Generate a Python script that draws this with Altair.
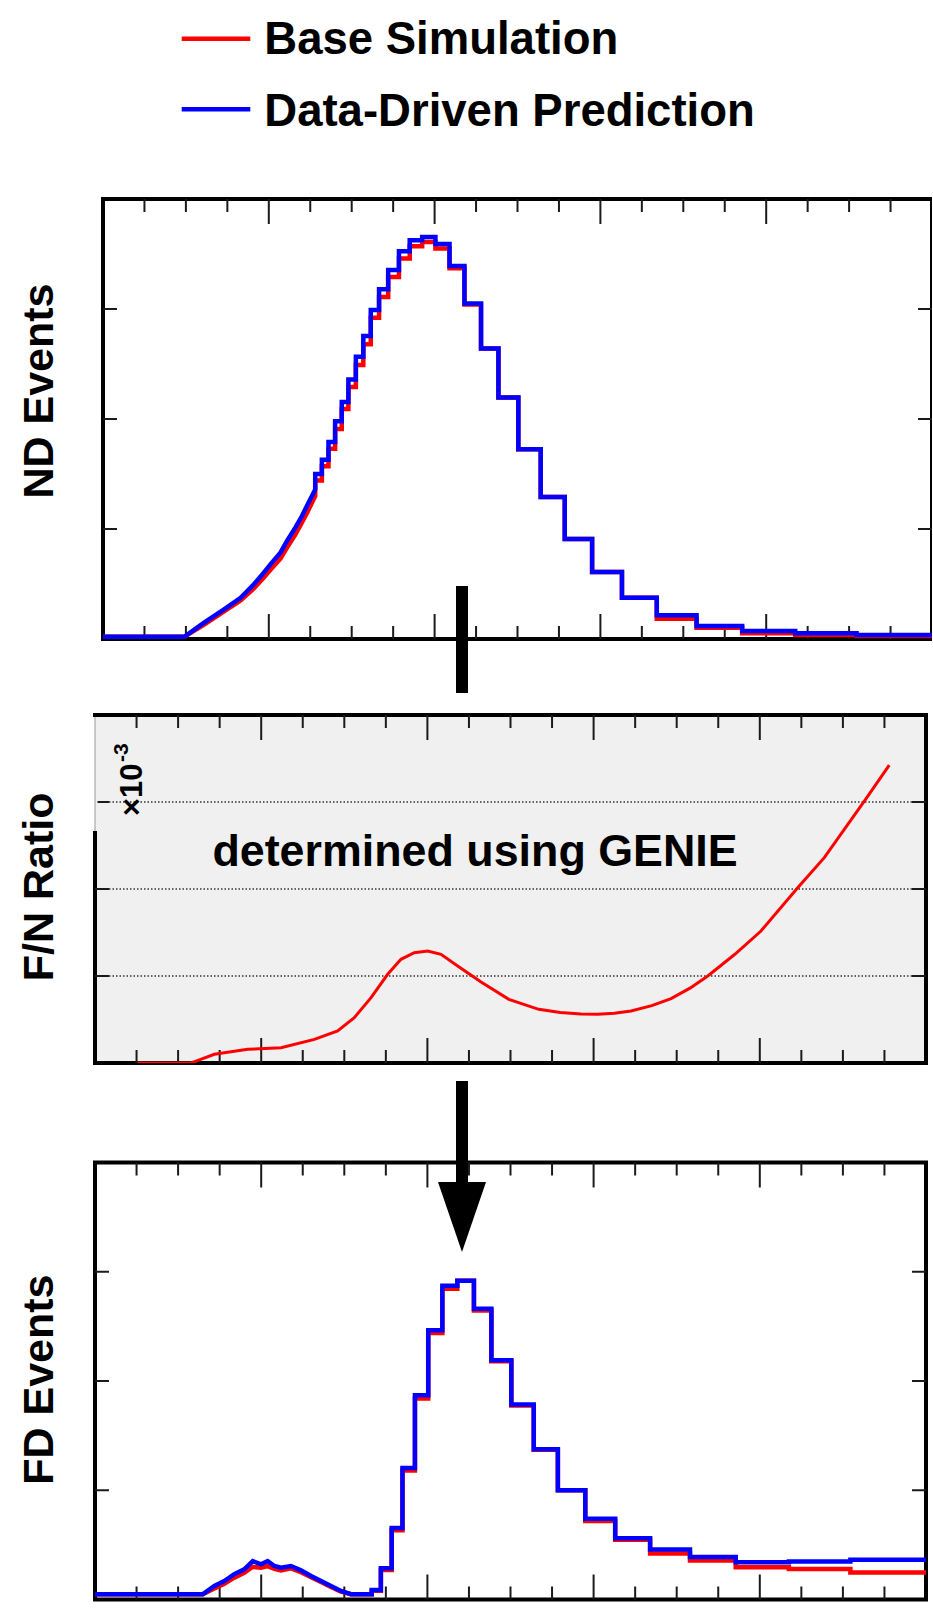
import altair as alt
import pandas as pd

FONT = "Liberation Sans"
RED = "#ff0000"
BLUE = "#0000ff"

# ---------------- data ----------------
# variable-width bin edges (reconstructed energy) shared by ND and FD spectra
bin_edges = [1.28, 1.32, 1.36, 1.40, 1.44, 1.48, 1.525, 1.57, 1.615, 1.665,
             1.72, 1.785, 1.85, 1.925, 2.005, 2.09, 2.18, 2.28, 2.385, 2.505,
             2.64, 2.785, 2.95, 3.13, 3.34, 3.58, 3.855, 4.175, 4.545, 5.0]

# Near detector: finely binned low-energy edge
nd_fine_x = [0.0, 0.49, 0.61, 0.73, 0.83, 0.91, 0.97, 1.01, 1.07, 1.11, 1.16, 1.20, 1.235, 1.28]
nd_fine_base = [0.02, 0.02, 0.13, 0.25, 0.35, 0.46, 0.56, 0.63, 0.73, 0.83, 0.95, 1.06, 1.16, 1.30]
nd_fine_ddp = [0.02, 0.02, 0.148, 0.27, 0.375, 0.497, 0.603, 0.679, 0.785, 0.891, 1.012, 1.118, 1.225, 1.36]
# Near detector: contents of the variable-width bins
nd_bins_base = [1.44, 1.57, 1.73, 1.91, 2.09, 2.29, 2.49, 2.68, 2.92, 3.11, 3.29, 3.46, 3.57, 3.61,
                3.55, 3.37, 3.04, 2.64, 2.195, 1.725, 1.29, 0.91, 0.61, 0.375, 0.185, 0.103,
                0.052, 0.036, 0.028]
nd_bins_ddp = [1.50, 1.63, 1.79, 1.98, 2.155, 2.36, 2.565, 2.755, 2.99, 3.18, 3.355, 3.525, 3.625,
               3.655, 3.59, 3.39, 3.05, 2.64, 2.195, 1.725, 1.29, 0.91, 0.61, 0.375, 0.215, 0.118,
               0.073, 0.052, 0.036]

# Far/Near ratio (x10^-3), determined using GENIE
fn_x = [0.257, 0.578, 0.62, 0.718, 0.919, 1.119, 1.320, 1.460, 1.560, 1.661, 1.761, 1.841, 1.921,
        2.002, 2.082, 2.182, 2.323, 2.49, 2.67, 2.80, 2.924, 3.025, 3.125, 3.225, 3.35, 3.466,
        3.58, 3.687, 3.85, 4.007, 4.228, 4.388, 4.629, 4.779]
fn_ratio = [0.0, 0.0, 0.03, 0.100, 0.157, 0.176, 0.272, 0.368, 0.521, 0.751, 1.020, 1.192, 1.268,
            1.287, 1.249, 1.115, 0.931, 0.732, 0.617, 0.580, 0.563, 0.560, 0.572, 0.598, 0.660,
            0.740, 0.860, 1.000, 1.250, 1.517, 2.015, 2.360, 3.011, 3.425]

# Far detector: finely binned low-energy hump
fd_fine_x = [0.0, 0.648, 0.718, 0.778, 0.838, 0.898, 0.949, 0.999, 1.039, 1.079, 1.119, 1.179,
             1.239, 1.300, 1.360, 1.420, 1.480, 1.540, 1.665]
fd_fine_base = [0.048, 0.048, 0.10, 0.145, 0.20, 0.245, 0.30, 0.29, 0.305, 0.28, 0.265, 0.285,
                0.25, 0.205, 0.16, 0.115, 0.072, 0.048, 0.048]
fd_fine_ddp = [0.048, 0.048, 0.124, 0.169, 0.231, 0.276, 0.352, 0.322, 0.352, 0.307, 0.291, 0.307,
               0.267, 0.215, 0.169, 0.124, 0.078, 0.048, 0.048]
# Far detector: contents of the variable-width bins (from 1.665 upward)
fd_bins_base = [0.08, 0.27, 0.635, 1.18, 1.84, 2.44, 2.845, 2.917, 2.645, 2.18, 1.775, 1.37, 1.00,
                0.718, 0.546, 0.420, 0.357, 0.295, 0.279, 0.248]
fd_bins_ddp = [0.087, 0.286, 0.654, 1.204, 1.870, 2.465, 2.871, 2.917, 2.661, 2.191, 1.784, 1.376,
               1.000, 0.740, 0.561, 0.458, 0.389, 0.341, 0.348, 0.363]

# axis tick positions (ROOT-style inward ticks, no labels)
major_ticks = [1, 2, 3, 4]
minor_ticks = [0.25, 0.5, 0.75, 1.25, 1.5, 1.75, 2.25, 2.5, 2.75, 3.25, 3.5, 3.75,
               4.25, 4.5, 4.75]
y_ticks = [1, 2, 3]
x_range = [0, 5]
y_range = [0, 4]

legend_labels = ["Base Simulation", "Data-Driven Prediction"]

# ---------------- panel geometry (pixels) ----------------
ND_W, ND_H, ND_DX = 837, 440, 8          # ND frame starts 8 px right of the plot origin
FN_W, FN_H = 831, 348
FD_W, FD_H, FD_DY = 831, 460.5, 23.5      # FD frame starts 23.5 px below the plot origin
GAP = 76

nd_xscale = alt.Scale(domain=[-ND_DX / ((ND_W - ND_DX) / 5.0), 5.0], nice=False, zero=False)
nd_yscale = alt.Scale(domain=[0, 4], nice=False, zero=False)
fn_xscale = alt.Scale(domain=[0, 5], nice=False, zero=False)
fn_yscale = alt.Scale(domain=[0, 4], nice=False, zero=False)
fd_xscale = alt.Scale(domain=[0, 5], nice=False, zero=False)
fd_yscale = alt.Scale(domain=[0, 4 + FD_DY / ((FD_H - FD_DY) / 4.0)], nice=False, zero=False)

one = pd.DataFrame({"a": [0]})
box = pd.DataFrame({"x0": [x_range[0]], "x1": [x_range[1]], "y0": [y_range[0]], "y1": [y_range[1]]})


def step_path(fine_x, fine_y, edges, levels):
    xs, ys = list(fine_x), list(fine_y)
    for lo, hi, v in zip(edges[:-1], edges[1:], levels):
        xs += [lo, hi]
        ys += [v, v]
    return pd.DataFrame({"x": xs, "y": ys, "i": range(len(xs))})


def line(df, color, xs, ys, width):
    return alt.Chart(df).mark_line(
        color=color, strokeWidth=width, strokeJoin="miter", strokeCap="butt", clip=True
    ).encode(
        x=alt.X("x:Q", scale=xs, axis=None),
        y=alt.Y("y:Q", scale=ys, axis=None),
        order="i:Q",
    )


def frame(xs, ys, fill="transparent"):
    return alt.Chart(box).mark_rect(
        fill=fill, stroke="black", strokeWidth=4
    ).encode(
        x=alt.X("x0:Q", scale=xs, axis=None), x2="x1:Q",
        y=alt.Y("y0:Q", scale=ys, axis=None), y2="y1:Q",
    )


def ticks(xs, ys, left, right, top, bottom):
    style = dict(color="#1a1a1a", strokeWidth=2)
    layers = []
    for vals, length in ((major_ticks, 25), (minor_ticks, 13)):
        df = pd.DataFrame({"t": vals})
        X = alt.X("t:Q", scale=xs, axis=None)
        layers.append(alt.Chart(df).mark_rule(**style).encode(
            x=X, y=alt.value(top), y2=alt.value(top + length)))
        layers.append(alt.Chart(df).mark_rule(**style).encode(
            x=X, y=alt.value(bottom), y2=alt.value(bottom - length)))
    df = pd.DataFrame({"t": y_ticks})
    Y = alt.Y("t:Q", scale=ys, axis=None)
    layers.append(alt.Chart(df).mark_rule(**style).encode(
        y=Y, x=alt.value(left), x2=alt.value(left + 14)))
    layers.append(alt.Chart(df).mark_rule(**style).encode(
        y=Y, x=alt.value(right), x2=alt.value(right - 14)))
    return layers


def label(text, x, y, size, angle=0, align="left", baseline="alphabetic"):
    kw = dict(text=text, font=FONT, fontWeight="bold", fontSize=size,
              align=align, baseline=baseline, color="black")
    if angle:
        kw["angle"] = angle
    return alt.Chart(one).mark_text(**kw).encode(x=alt.value(x), y=alt.value(y))


def vrule(x, y0, y1, color, width):
    return alt.Chart(one).mark_rule(color=color, strokeWidth=width).encode(
        x=alt.value(x), y=alt.value(y0), y2=alt.value(y1))


# ---------------- ND panel ----------------
nd_layers = [frame(nd_xscale, nd_yscale)]
nd_layers += ticks(nd_xscale, nd_yscale, ND_DX, ND_W, 0, ND_H)
nd_layers += [
    line(step_path(nd_fine_x, nd_fine_base, bin_edges, nd_bins_base), RED, nd_xscale, nd_yscale, 4.5),
    line(step_path(nd_fine_x, nd_fine_ddp, bin_edges, nd_bins_ddp), BLUE, nd_xscale, nd_yscale, 4.5),
    # connector bar down to the ratio panel
    vrule(367, 387, 494, "black", 12),
    # legend
    alt.Chart(one).mark_rule(color=RED, strokeWidth=4.5).encode(
        x=alt.value(86.7), x2=alt.value(155.3), y=alt.value(-160.3)),
    alt.Chart(one).mark_rule(color=BLUE, strokeWidth=4.5).encode(
        x=alt.value(86.7), x2=alt.value(155.3), y=alt.value(-89.7)),
    label(legend_labels[0], 169.3, -145, 45.5),
    label(legend_labels[1], 169.3, -73.5, 45.5),
    label("ND Events", -42, 192, 43, angle=270, align="center"),
    # page-origin anchor
    alt.Chart(one).mark_point(shape="square", size=1, filled=True, opacity=0, strokeWidth=0).encode(
        x=alt.value(-94), y=alt.value(-198)),
]
nd = alt.layer(*nd_layers).properties(width=ND_W, height=ND_H)

# ---------------- F/N ratio panel ----------------
grid = alt.Chart(pd.DataFrame({"t": y_ticks})).mark_rule(
    color="#333333", strokeWidth=1.4, strokeDash=[1.5, 2]
).encode(y=alt.Y("t:Q", scale=fn_yscale, axis=None), x=alt.value(0), x2=alt.value(FN_W))

fn_df = pd.DataFrame({"x": fn_x, "y": fn_ratio, "i": range(len(fn_x))})
fn_layers = [frame(fn_xscale, fn_yscale, fill="#f0f0f0"), grid]
fn_layers += ticks(fn_xscale, fn_yscale, 0, FN_W, 0, FN_H)
fn_layers += [
    # the exponent box interrupts the left frame edge
    vrule(-1.2, 2, 116, "white", 2.6),
    vrule(1.2, 2, 116, "#f0f0f0", 2.6),
    vrule(0, 2, 116, "#9a9a9a", 1),
    line(fn_df, RED, fn_xscale, fn_yscale, 3),
    label("determined using GENIE", 117.4, 151, 44.8),
    label("\u00d710", 47, 101, 31, angle=270),
    label("-3", 33, 47, 21, angle=270),
    label("F/N Ratio", -42, 171.8, 43, angle=270, align="center"),
]
fn = alt.layer(*fn_layers).properties(width=FN_W, height=FN_H)

# ---------------- FD panel ----------------
fd_layers = [frame(fd_xscale, fd_yscale)]
fd_layers += ticks(fd_xscale, fd_yscale, 0, FD_W, FD_DY, FD_H)
fd_layers += [
    line(step_path(fd_fine_x, fd_fine_base, bin_edges[9:], fd_bins_base), RED, fd_xscale, fd_yscale, 4.5),
    line(step_path(fd_fine_x, fd_fine_ddp, bin_edges[9:], fd_bins_ddp), BLUE, fd_xscale, fd_yscale, 4.5),
    # arrow from the ratio panel
    vrule(367, -58, 45, "black", 12),
    alt.Chart(one).mark_point(
        shape="M-0.686,-1L0.686,-1L0,1Z", size=4900, filled=True, color="black", opacity=1,
        strokeWidth=0
    ).encode(x=alt.value(367), y=alt.value(78)),
    label("FD Events", -42, 240.6, 43, angle=270, align="center"),
]
fd = alt.layer(*fd_layers).properties(width=FD_W, height=FD_H)

chart = alt.vconcat(nd, fn, fd, spacing=GAP, bounds="flush").properties(
    padding={"left": 0, "top": 0, "right": -3, "bottom": 0}, background="white"
).configure_view(stroke="transparent")

chart.save("out.html", embed_options={"renderer": "svg", "actions": False})
